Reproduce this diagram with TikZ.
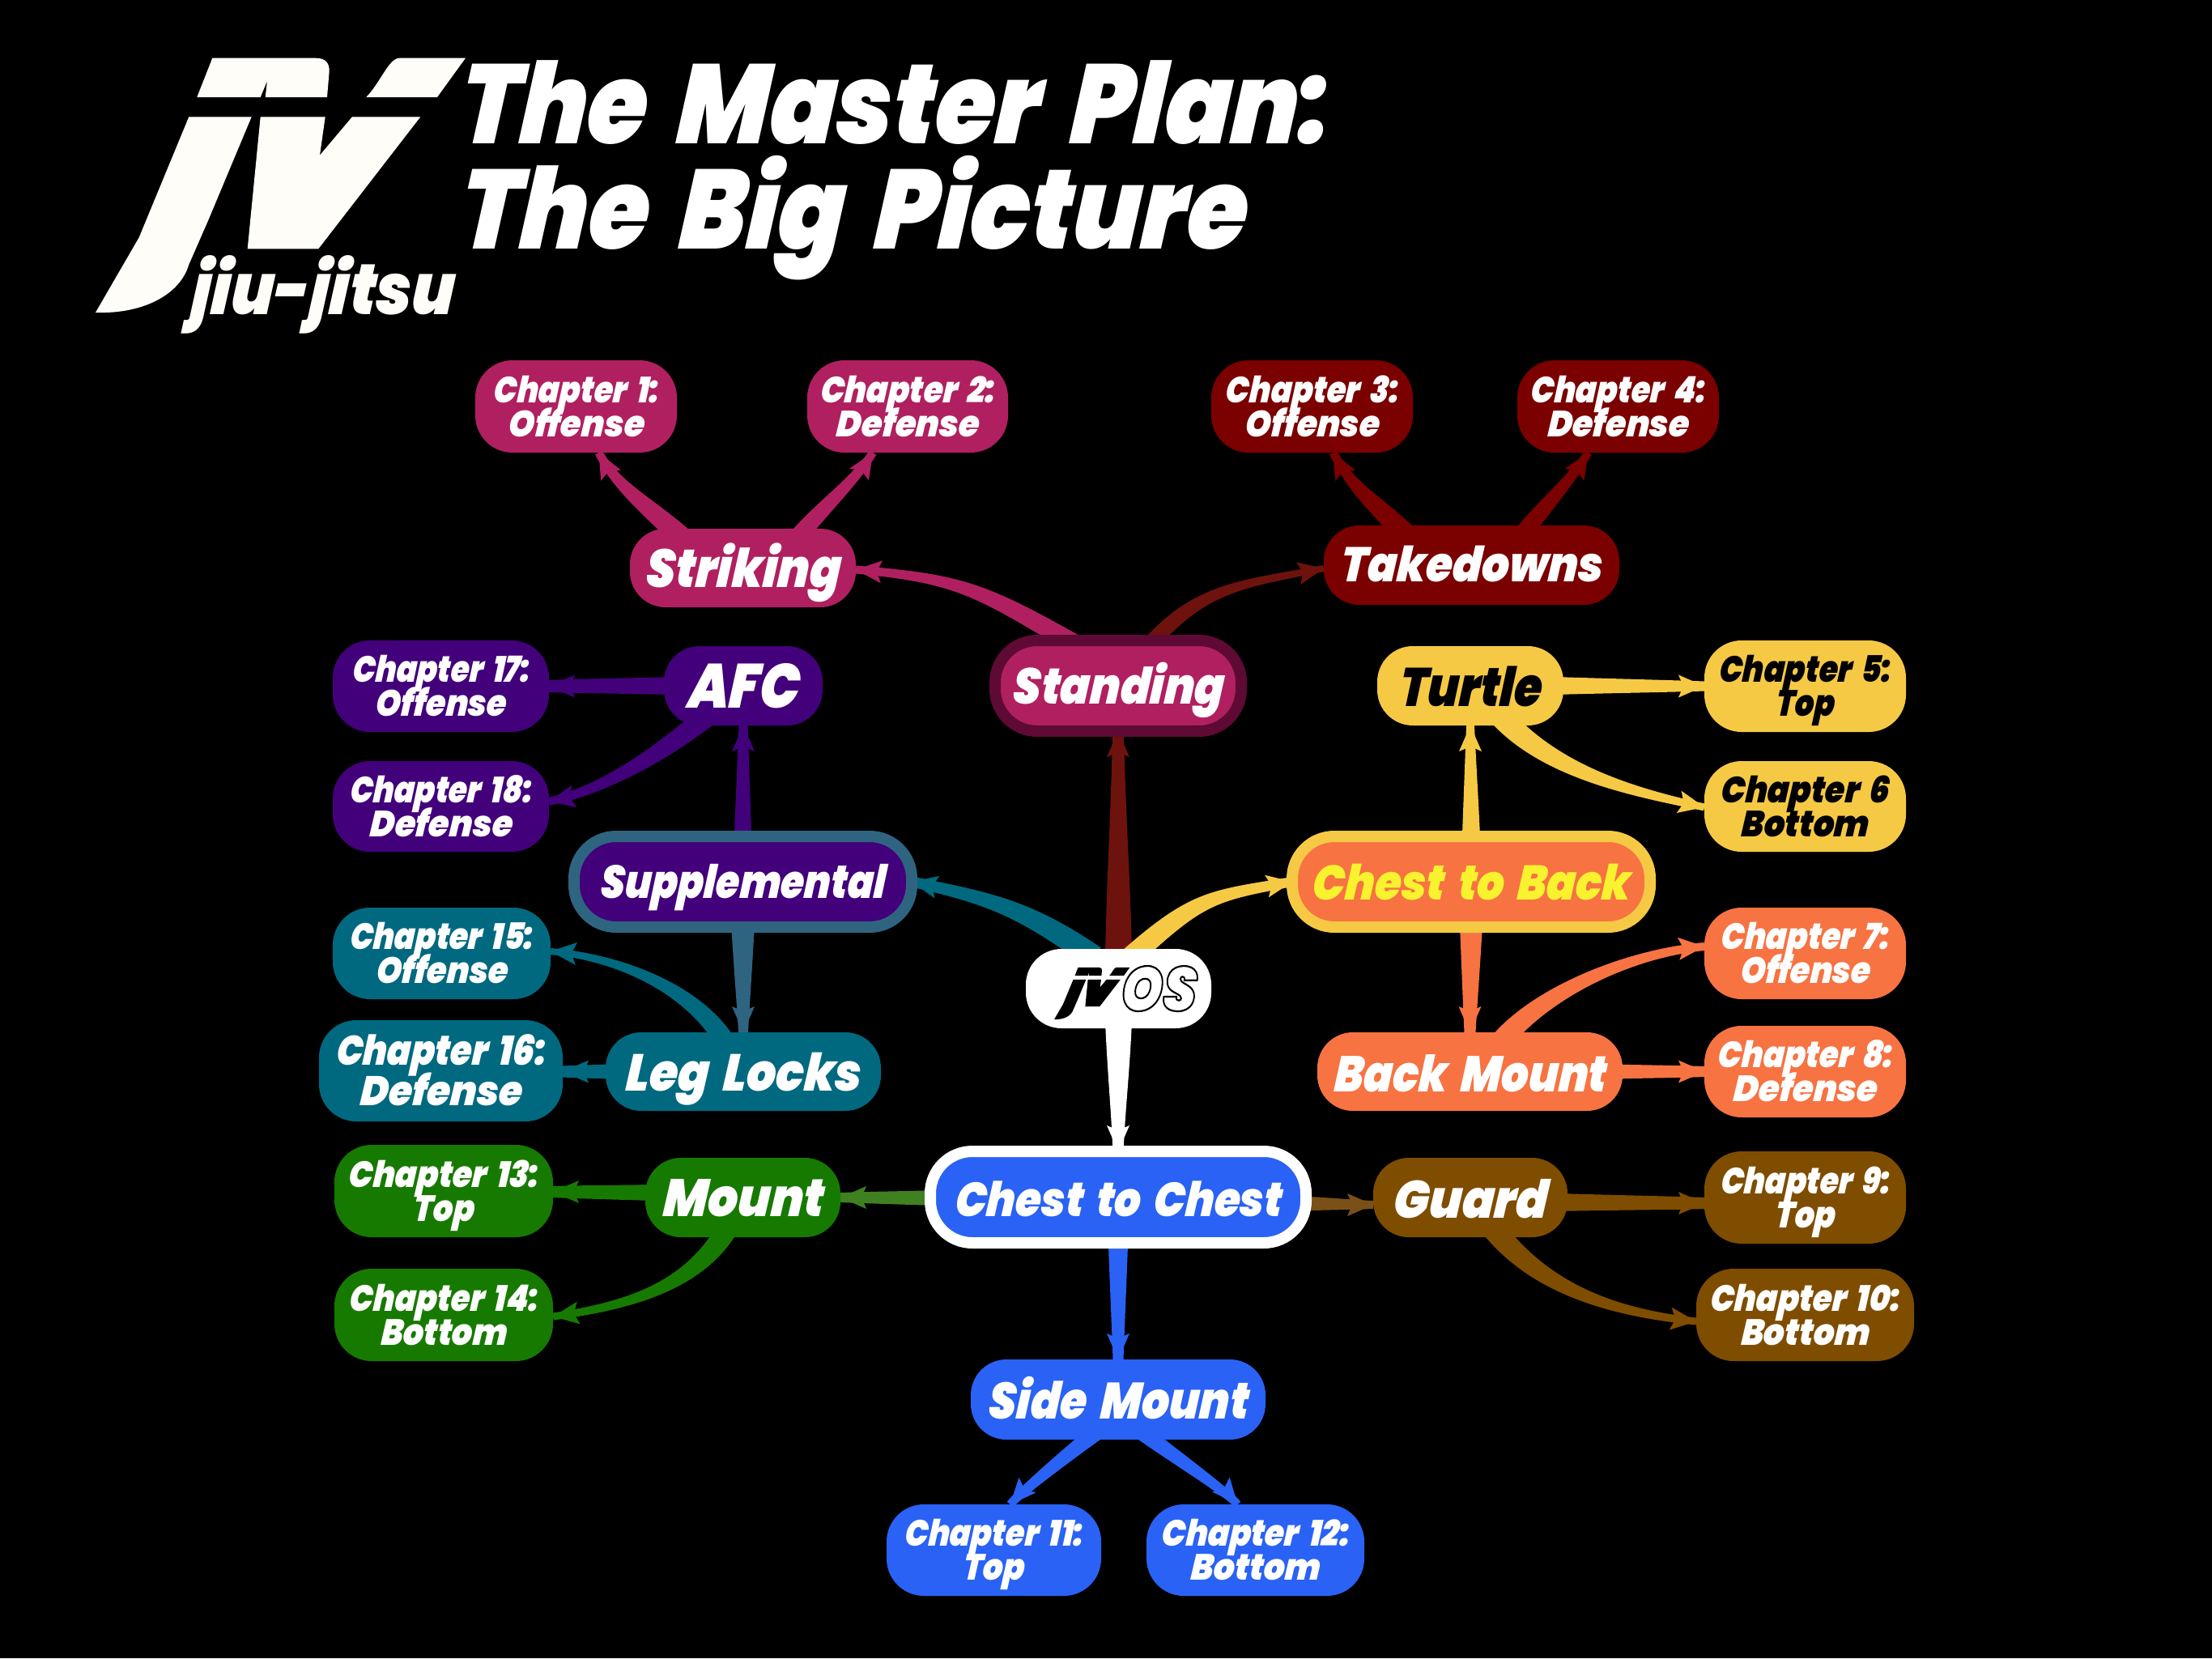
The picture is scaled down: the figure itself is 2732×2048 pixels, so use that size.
\documentclass[tikz,border=0pt]{standalone}
\usepackage{fontspec}
\usepackage{graphicx}
\usetikzlibrary{calc}
\newfontfamily\hd[FakeSlant=0.08,WordSpace=1.8]{Poppins Black Italic}
\definecolor{crim}{HTML}{B02060}
\definecolor{crimd}{HTML}{5E0A35}
\definecolor{maroon}{HTML}{7B0000}
\definecolor{maroonl}{HTML}{6E120E}
\definecolor{purp}{HTML}{43007B}
\definecolor{teal}{HTML}{006980}
\definecolor{teall}{HTML}{2F6480}
\definecolor{yell}{HTML}{F6C945}
\definecolor{orng}{HTML}{F77342}
\definecolor{yelt}{HTML}{F8F22F}
\definecolor{grn}{HTML}{177A00}
\definecolor{grnl}{HTML}{3F8020}
\definecolor{brwn}{HTML}{7F4D00}
\definecolor{brwnl}{HTML}{7A5018}
\definecolor{blu}{HTML}{2962F5}
\definecolor{logo}{HTML}{FEFDF7}
\pgfdeclarelayer{bgl}\pgfdeclarelayer{conn}\pgfsetlayers{bgl,conn,main}
\tikzset{
 chapbox/.style={fill=#1,rounded corners=46pt,inner sep=0pt,outer sep=0pt,text=white},
 mainbox/.style={fill=#1,rounded corners=44pt,inner sep=0pt,outer sep=0pt,text=white},
 ringbox/.style 2 args={fill=#1,draw=#2,line width=14pt,rounded corners=52pt,inner sep=0pt,outer sep=0pt,text=white},
 sz/.style 2 args={minimum width=#1pt,minimum height=#2pt},
}
\newcommand\lab[3]{{\fontsize{#2pt}{#2pt}\hd\resizebox{#1pt}{\height}{#3}}}
\newcommand\one[4]{\smash{\makebox[0pt]{\raisebox{#3pt}{\lab{#1}{#2}{#4}}}}}
\newcommand\twog[7]{\smash{\makebox[0pt]{\raisebox{#2pt}{\lab{#3}{#1}{#4}}}\makebox[0pt]{\raisebox{#5pt}{\lab{#6}{#1}{#7}}}}}
\newcommand\two[4]{\twog{45}{5}{#1}{#2}{-37}{#3}{#4}}
\newcommand\tap[9]{%
 \coordinate (s0) at #2; \coordinate (e) at #3;
 \coordinate (s) at ($(s0)+(#6+180:#4)$);
 \fill[#1] ($(s)+(#6+90:#4)$) .. controls ($(s)+(#6:#8+#4)+(#6+90:#4*0.9)$) and ($(e)+(#7+180:#9)+(#7+90:#5*1.15)$) .. ($(e)+(#7+90:#5)$) -- ($(e)+(#7-90:#5)$) .. controls ($(e)+(#7+180:#9)+(#7-90:#5*1.15)$) and ($(s)+(#6:#8+#4)+(#6-90:#4*0.9)$) .. ($(s)+(#6-90:#4)$) -- cycle;
 \fill[#1] (e) -- ($(e)+(#7+180:32)+(#7+90:14)$) -- ($(e)+(#7+180:26)$) -- ($(e)+(#7+180:32)+(#7-90:14)$) -- cycle;
}
\newcommand\jvshape{%
 (262.3,-71.7) -- (390,-71.7) .. controls (402,-71.7) and (407,-78) .. (406.7,-88) -- (404,-120) -- (327.7,-120) -- (330,-100) -- (321.7,-120) -- (243.3,-120) -- cycle
 (493.3,-71.7) -- (575,-71.7) -- (540,-120) -- (452.3,-120) .. controls (470,-102) and (480,-72) .. (493.3,-71.7) -- cycle
 (233.3,-144.3) -- (310.7,-144.3) -- (256.7,-273.3) -- (233.3,-326.7) .. controls (222,-365) and (175,-388) .. (118,-386) -- (171.7,-293.3) -- cycle
 (321.7,-144.3) -- (401.7,-144.3) -- (395,-191.7) -- (435,-144.3) -- (519.3,-144.3) -- (393.3,-307.3) -- (305.7,-307.3) -- cycle
}
\begin{document}
\begin{tikzpicture}[x=1pt,y=1pt]
\useasboundingbox (0,0) rectangle (2732,-2048);
\begin{pgfonlayer}{bgl}
\fill[black] (0,0) rectangle (2732,-2048);
\end{pgfonlayer}
% logo and title
\fill[logo] \jvshape;
\node[text=logo,inner sep=0pt] (jj) at (398,-388) {\one{325}{88}{0}{jiu-jitsu}};
\node[text=white,inner sep=0pt] (title) at (566,-177) {\smash{\rlap{\lab{1075}{139}{The Master Plan:}}\rlap{\raisebox{-130pt}{\lab{973}{139}{The Big Picture}}}}};
% nodes
\node[chapbox=crim,sz={249}{114}] (ch1) at (711.5,-502) {\two{204}{Chapter 1:}{168}{Offense}};
\node[chapbox=crim,sz={248}{114}] (ch2) at (1121,-502) {\two{216}{Chapter 2:}{177}{Defense}};
\node[chapbox=maroon,sz={249}{114}] (ch3) at (1620.5,-502) {\two{214}{Chapter 3:}{166}{Offense}};
\node[chapbox=maroon,sz={249}{114}] (ch4) at (1998.5,-502) {\two{216}{Chapter 4:}{175}{Defense}};
\node[mainbox=crim,sz={279}{97}] (striking) at (917.5,-701.5) {\one{241}{66}{-23.5}{Striking}};
\node[mainbox=maroon,sz={365}{98}] (takedowns) at (1817.5,-698) {\one{324}{60}{-20}{Takedowns}};
\node[ringbox={crim}{crimd},sz={304}{112}] (standing) at (1381,-847) {\one{261}{62}{-22}{Standing}};
\node[chapbox=purp,sz={267}{113}] (ch17) at (544.5,-847.5) {\two{219}{Chapter 17:}{162}{Offense}};
\node[mainbox=purp,sz={196}{98}] (afc) at (918,-847) {\one{138}{77}{-27}{AFC}};
\node[chapbox=purp,sz={267}{112}] (ch18) at (544.5,-996) {\two{225}{Chapter 18:}{176}{Defense}};
\node[mainbox=yell,sz={230}{98},text=black] (turtle) at (1816,-847) {\one{176}{67}{-25}{Turtle}};
\node[chapbox=yell,sz={249}{113},text=black] (ch5) at (2229.5,-847.5) {\two{212}{Chapter 5:}{72}{Top}};
\node[chapbox=yell,sz={249}{112},text=black] (ch6) at (2229.5,-996) {\two{208}{Chapter 6}{158}{Bottom}};
\node[ringbox={purp}{teall},sz={417}{112}] (supp) at (917.5,-1089) {\one{352}{57}{-20.5}{Supplemental}};
\node[ringbox={orng}{yell},sz={442}{112},text=yelt] (c2b) at (1817,-1089) {\one{393}{60}{-22}{Chest to Back}};
\node[chapbox=teal,sz={269}{113}] (ch15) at (545.5,-1177.5) {\two{227}{Chapter 15:}{163}{Offense}};
\node[chapbox=orng,sz={249}{113}] (ch7) at (2229.5,-1177.5) {\two{208}{Chapter 7:}{161}{Offense}};
\node[chapbox=teal,sz={301}{125}] (ch16) at (544.5,-1322.5) {\twog{51}{7}{259}{Chapter 16:}{-43}{201}{Defense}};
\node[mainbox=teal,sz={340}{97}] (legl) at (918,-1323.5) {\one{291}{64}{-23.5}{Leg Locks}};
\node[mainbox=orng,sz={377}{97}] (bm) at (1815.5,-1323.5) {\one{337}{62}{-24.5}{Back Mount}};
\node[chapbox=orng,sz={249}{113}] (ch8) at (2229.5,-1323.5) {\two{217}{Chapter 8:}{178}{Defense}};
\node[mainbox=white,sz={229}{98},text=white] (jvos) at (1381.5,-1221) {\makebox[0pt]{\hspace{97pt}\raisebox{-26pt}{\special{pdf:code q 0 G 1 Tr 2.2 w}\lab{94}{77}{OS}\special{pdf:code Q}}}};
\begin{scope}[shift={(1278,-1180.3)},scale=.204]
\fill[black] \jvshape;
\end{scope}
\node[ringbox={blu}{white},sz={464}{113}] (c2c) at (1381,-1478.5) {\one{404}{59}{-24}{Chest to Chest}};
\node[chapbox=grn,sz={270}{114}] (ch13) at (548,-1471) {\two{235}{Chapter 13:}{75}{Top}};
\node[chapbox=grn,sz={270}{114}] (ch14) at (548,-1624) {\two{233}{Chapter 14:}{156}{Bottom}};
\node[mainbox=grn,sz={241}{98}] (mount) at (917.5,-1479) {\one{199}{65}{-23.6}{Mount}};
\node[mainbox=brwn,sz={240}{98}] (guard) at (1816,-1479) {\one{191}{65}{-25.5}{Guard}};
\node[chapbox=brwn,sz={249}{114}] (ch9) at (2229.5,-1479) {\two{209}{Chapter 9:}{74}{Top}};
\node[chapbox=brwn,sz={269}{114}] (ch10) at (2229.5,-1624) {\two{234}{Chapter 10:}{159}{Bottom}};
\node[mainbox=blu,sz={364}{99}] (side) at (1381,-1728.5) {\one{321}{63}{-24}{Side Mount}};
\node[chapbox=blu,sz={265}{113}] (ch11) at (1227.5,-1914.5) {\two{220}{Chapter 11:}{76}{Top}};
\node[chapbox=blu,sz={269}{113}] (ch12) at (1550.5,-1914.5) {\two{232}{Chapter 12:}{160}{Bottom}};
% connectors
\begin{pgfonlayer}{conn}
\tap{crim}{($(striking.north)+(-85,-2)$)}{($(ch1.south)+(28,0)$)}{13}{5}{138}{118}{50}{45}
\tap{crim}{($(striking.north)+(75,-2)$)}{($(ch2.south)+(-43,0)$)}{11}{5}{50}{58}{40}{40}
\tap{maroon}{($(takedowns.north)+(-90,-2)$)}{($(ch3.south)+(26,0)$)}{13}{5}{136}{118}{50}{45}
\tap{maroon}{($(takedowns.north)+(70,-2)$)}{($(ch4.south)+(-37,0)$)}{11}{5}{52}{58}{40}{40}
\tap{crim}{($(standing.north)+(-58,-2)$)}{($(striking.east)+(0,-2)$)}{12}{5}{150}{175}{130}{130}
\tap{maroonl}{($(standing.north)+(42,-2)$)}{($(takedowns.west)+(0,-4)$)}{10}{4}{50}{11}{90}{100}
\tap{maroonl}{(jvos.north)}{(standing.south)}{16.7}{7}{90}{90}{80}{80}
\tap{teal}{($(jvos.north)+(-42,-2)$)}{(supp.east)}{14.5}{6.5}{145}{168}{90}{100}
\tap{yell}{($(jvos.north)+(24,-2)$)}{(c2b.west)}{13}{6}{42}{10}{100}{100}
\tap{white}{(jvos.south)}{(c2c.north)}{16.7}{6.7}{-90}{-90}{40}{40}
\tap{grnl}{($(c2c.west)+(0,-1)$)}{(mount.east)}{9.5}{6}{180}{180}{20}{20}
\tap{brwnl}{($(c2c.east)+(0,-8)$)}{($(guard.west)+(0,-9)$)}{9}{5}{0}{0}{20}{20}
\tap{blu}{(c2c.south)}{(side.north)}{12.5}{6.5}{-90}{-90}{30}{30}
\tap{blu}{($(side.south)+(-36,2)$)}{($(ch11.north)+(20,0)$)}{10}{5}{217}{228}{30}{20}
\tap{blu}{($(side.south)+(39,2)$)}{($(ch12.north)+(-22,0)$)}{10}{5}{-37}{-50}{30}{20}
\tap{purp}{(afc.west)}{(ch17.east)}{11}{7.5}{180}{180}{20}{20}
\tap{purp}{($(afc.south)+(-54,4)$)}{($(ch18.east)+(0,6)$)}{13}{5}{219}{192}{60}{70}
\tap{purp}{(supp.north)}{(afc.south)}{11}{5.5}{90}{90}{20}{20}
\tap{teall}{(supp.south)}{(legl.north)}{15}{6}{-90}{-90}{20}{20}
\tap{teal}{($(legl.north)+(-28,-2)$)}{($(ch15.east)+(0,2.5)$)}{12}{4}{122}{175}{70}{80}
\tap{teal}{(legl.west)}{($(ch16.west)+(301,-1)$)}{9}{7}{180}{180}{20}{20}
\tap{grn}{($(mount.west)+(0,6)$)}{($(ch13.east)+(0,-1)$)}{10}{7}{180}{180}{20}{20}
\tap{grn}{($(mount.south)+(-24,2)$)}{($(ch14.east)+(0,-2)$)}{13}{4.5}{240}{188}{70}{100}
\tap{brwn}{($(guard.east)+(0,-6)$)}{($(ch9.west)+(0,-7)$)}{11}{7}{0}{0}{20}{20}
\tap{brwn}{($(guard.south)+(35,2)$)}{($(ch10.west)+(0,-8)$)}{14}{4.5}{-52}{-6}{80}{110}
\tap{yell}{(turtle.east)}{(ch5.west)}{11}{6}{0}{0}{20}{20}
\tap{yell}{($(turtle.south)+(46,2)$)}{($(ch6.west)+(0,-1)$)}{14}{4.5}{-48}{-12}{80}{90}
\tap{yell}{(c2b.north)}{(turtle.south)}{11.5}{5}{90}{90}{20}{20}
\tap{orng}{(c2b.south)}{(bm.north)}{14.5}{7}{-90}{-90}{20}{20}
\tap{orng}{($(bm.north)+(46,-2)$)}{($(ch7.west)+(0,8.5)$)}{13}{5}{50}{5}{70}{90}
\tap{orng}{(bm.east)}{(ch8.west)}{9}{6.5}{0}{0}{20}{20}
\end{pgfonlayer}
\end{tikzpicture}
\end{document}
